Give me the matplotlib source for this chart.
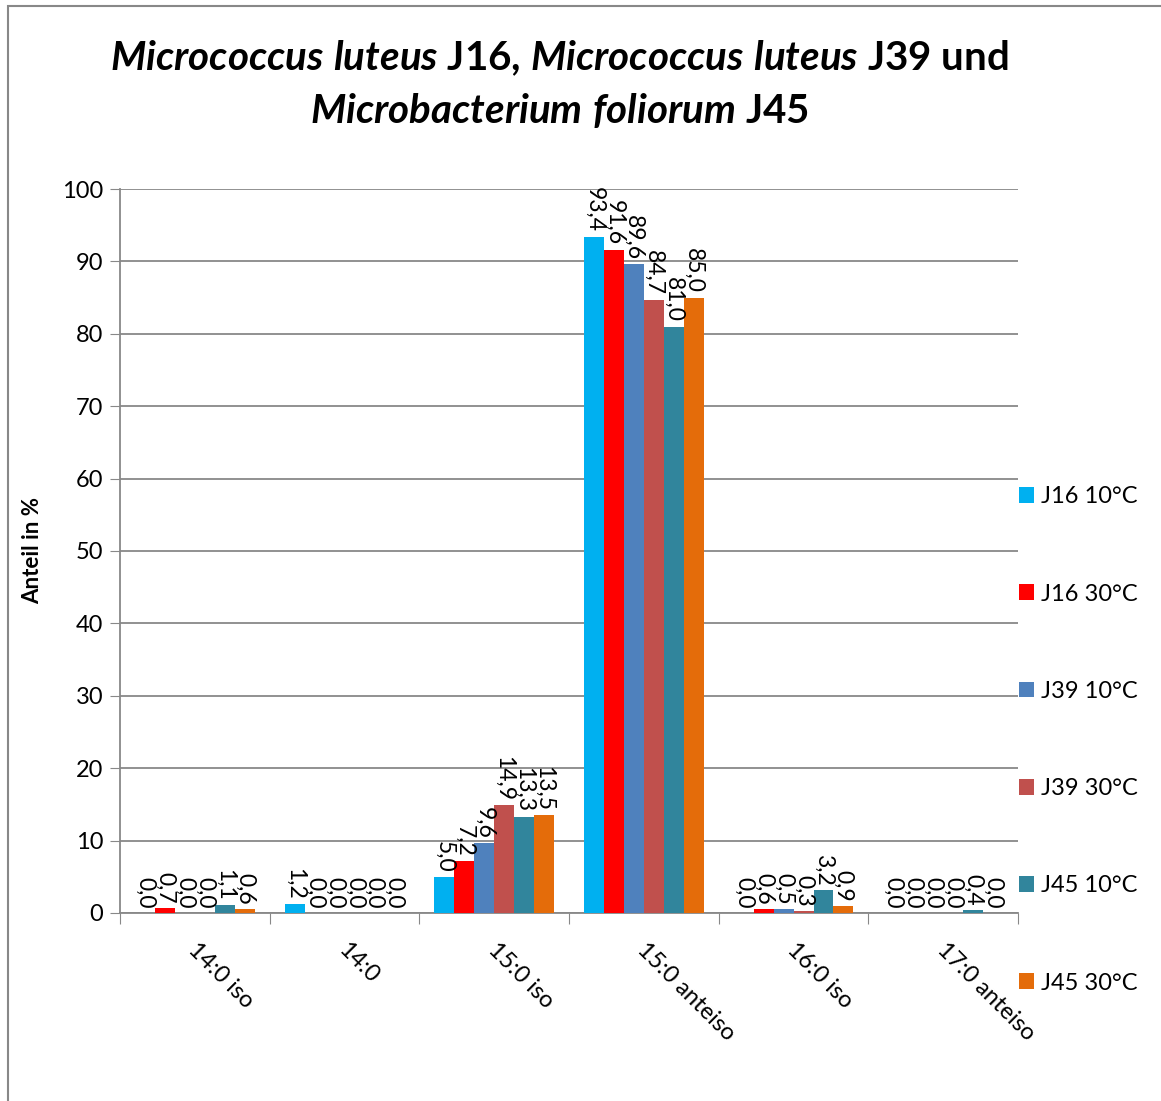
import numpy as np
import matplotlib.pyplot as plt
from matplotlib.patches import Rectangle

plt.rcParams['font.family'] = ['Lato', 'DejaVu Sans']
plt.rcParams['mathtext.fontset'] = 'custom'
plt.rcParams['mathtext.it'] = 'Lato:italic:bold'
plt.rcParams['mathtext.rm'] = 'Lato:bold'

# Fettsäuren und Anteile in %
kategorien = ["14:0 iso", "14:0", "15:0 iso", "15:0 anteiso", "16:0 iso", "17:0 anteiso"]
serien = ["J16 10°C", "J16 30°C", "J39 10°C", "J39 30°C", "J45 10°C", "J45 30°C"]
j16_10 = [0.0, 1.2, 5.0, 93.4, 0.0, 0.0]
j16_30 = [0.7, 0.0, 7.2, 91.6, 0.6, 0.0]
j39_10 = [0.0, 0.0, 9.6, 89.6, 0.5, 0.0]
j39_30 = [0.0, 0.0, 14.9, 84.7, 0.3, 0.0]
j45_10 = [1.1, 0.0, 13.3, 81.0, 3.2, 0.4]
j45_30 = [0.6, 0.0, 13.5, 85.0, 0.9, 0.0]
werte = [j16_10, j16_30, j39_10, j39_30, j45_10, j45_30]
farben = ["#00B0F0", "#FF0000", "#4F81BD", "#C0504D", "#31859C", "#E46C0A"]

fig = plt.figure(figsize=(11.61, 11.01), dpi=100)
ax = fig.add_axes([0.1034, 0.1708, 0.7735, 0.6575])

x = np.arange(len(kategorien))
breite = 0.8 / len(serien)
balken = []
for i, (w, f, name) in enumerate(zip(werte, farben, serien)):
    pos = x - 0.4 + breite * (i + 0.5)
    b = ax.bar(pos, w, breite, color=f, label=name, zorder=3)
    balken.append(b)
    for p, v in zip(pos, w):
        ax.text(p, v + 0.6, "{:.1f}".format(v).replace(".", ","), rotation=-90,
                ha="center", va="bottom", fontsize=16.5, zorder=4)

ax.set_xlim(-0.5, len(kategorien) - 0.5)
ax.set_ylim(0, 100)
ax.set_yticks(range(0, 101, 10))
ax.tick_params(axis="y", labelsize=17, length=7, color="#888888", pad=5)
ax.yaxis.grid(True, color="#888888", linewidth=1.3, zorder=0)

# Trennstriche zwischen den Gruppen
ax.set_xticks(np.arange(-0.5, len(kategorien), 1.0))
ax.set_xticklabels([])
ax.tick_params(axis="x", length=8, color="#888888")
for xi, k in zip(x, kategorien):
    ax.text(xi + 0.03, -3.6, k, rotation=-45, rotation_mode="anchor",
            ha="left", va="top", fontsize=17)

for s in ["top", "right"]:
    ax.spines[s].set_visible(False)
for s in ["left", "bottom"]:
    ax.spines[s].set_color("#888888")
    ax.spines[s].set_linewidth(1.3)

ax.set_ylabel("Anteil in %", fontsize=16, fontweight="bold", labelpad=14)

fig.text(0.482, 0.947,
         r"$\mathit{Micrococcus\ luteus}$ J16, $\mathit{Micrococcus\ luteus}$ J39 und",
         ha="center", va="center", fontsize=29, fontweight="bold")
fig.text(0.482, 0.900, r"$\mathit{Microbacterium\ foliorum}$ J45",
         ha="center", va="center", fontsize=29, fontweight="bold")

fig.legend(handles=balken, loc="upper left", bbox_to_anchor=(0.8675, 0.569),
           frameon=False, fontsize=17, labelspacing=3.23, handlelength=0.65,
           handleheight=0.65, handletextpad=0.3, borderpad=0)

fig.patches.append(Rectangle((8 / 1161, -0.01), 1.1, 1 - 6 / 1101 + 0.01,
                             transform=fig.transFigure, fill=False,
                             edgecolor="#888888", linewidth=1.5))

plt.savefig("out.png", dpi=100)
